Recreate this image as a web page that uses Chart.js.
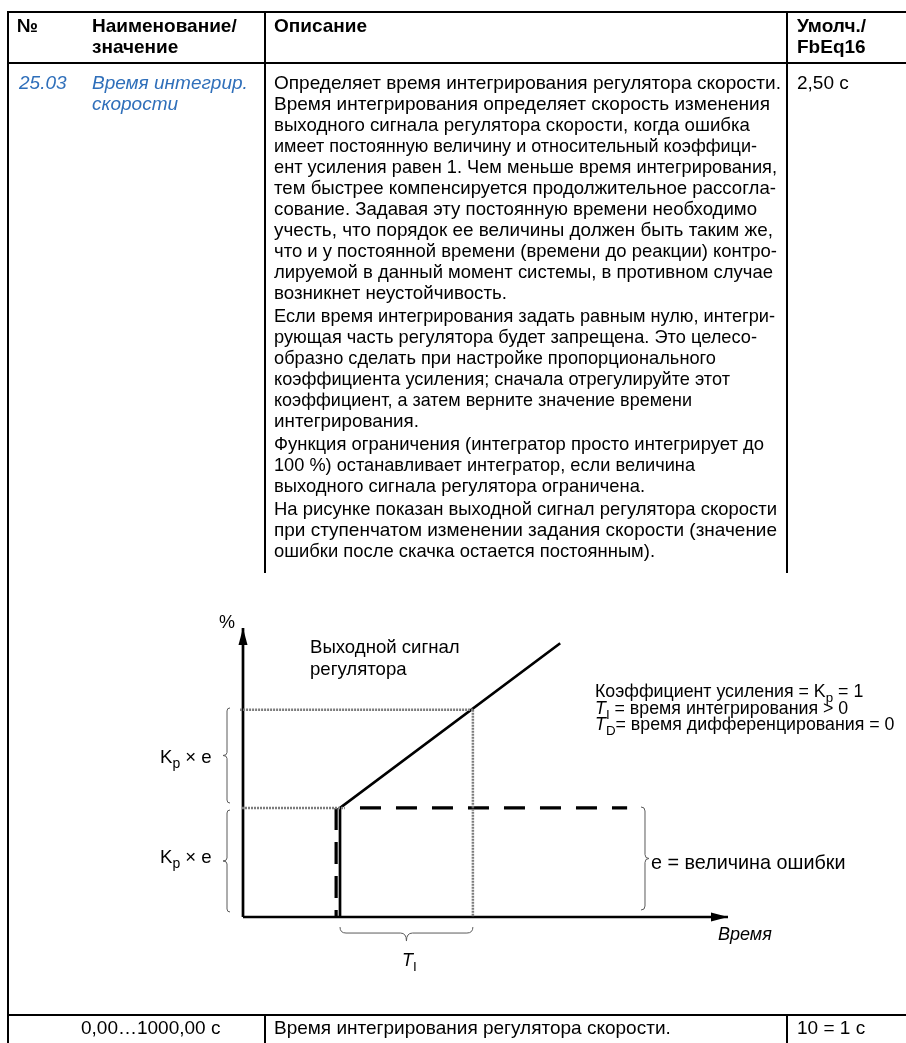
<!DOCTYPE html>
<html><head><meta charset="utf-8">
<script src="https://cdn.jsdelivr.net/npm/chart.js@4"></script>
<style>
html,body{margin:0;padding:0;background:#fff;}
body{width:906px;height:1043px;position:relative;overflow:hidden;font-family:"Liberation Sans",Arial,sans-serif;color:#000;}
.t{position:absolute;white-space:nowrap;font-size:19px;line-height:21px;z-index:2;transform-origin:0 0;}
.b{font-weight:bold;}
.blue{color:#2f6fba;font-style:italic;}
.ln{position:absolute;background:#000;z-index:2;}
.d{position:absolute;white-space:nowrap;font-size:18px;line-height:20px;z-index:3;}
.d sub{font-size:75%;vertical-align:-0.35em;line-height:0;}
#c{position:absolute;left:0;top:0;z-index:1;}
</style></head>
<body>
<canvas id="c" width="906" height="1043"></canvas>

<!-- table rules -->
<div class="ln" style="left:7px;top:11px;width:899px;height:2px"></div>
<div class="ln" style="left:7px;top:62px;width:899px;height:2px"></div>
<div class="ln" style="left:7px;top:11px;width:2px;height:1032px"></div>
<div class="ln" style="left:264px;top:11px;width:2px;height:562px"></div>
<div class="ln" style="left:786px;top:11px;width:2px;height:562px"></div>
<div class="ln" style="left:7px;top:1014px;width:899px;height:2px"></div>
<div class="ln" style="left:264px;top:1014px;width:2px;height:29px"></div>
<div class="ln" style="left:786px;top:1014px;width:2px;height:29px"></div>

<!-- header -->
<div class="t b" style="left:17px;top:15px">№</div>
<div class="t b" style="left:92px;top:15px">Наименование/<br>значение</div>
<div class="t b" style="left:274px;top:15px">Описание</div>
<div class="t b" style="left:797px;top:15px">Умолч./<br>FbEq16</div>

<!-- row -->
<div class="t blue" style="left:19px;top:72px">25.03</div>
<div class="t blue" style="left:92px;top:72px">Время интегрир.<br>скорости</div>
<div class="t" style="left:797px;top:72px">2,50 с</div>
<div id="desc"></div>

<!-- bottom row -->
<div class="t" style="left:81px;top:1017px">0,00…1000,00 с</div>
<div class="t" style="left:274px;top:1017px">Время интегрирования регулятора скорости.</div>
<div class="t" style="left:797px;top:1017px">10 = 1 с</div>

<!-- diagram labels -->
<div class="d" style="left:219px;top:612px">%</div>
<div class="d" style="left:310px;top:636px;line-height:22px;font-size:18.6px">Выходной сигнал<br>регулятора</div>
<div class="d" style="left:160px;top:747px;font-size:18.6px">K<sub>p</sub> × e</div>
<div class="d" style="left:160px;top:847px;font-size:18.6px">K<sub>p</sub> × e</div>
<div class="d" style="left:595px;top:683px;line-height:16.6px;font-size:17.8px">Коэффициент усиления = K<sub>p</sub> = 1</div>
<div class="d" style="left:595px;top:700px;line-height:16.6px;font-size:17.8px"><i>T</i><sub>I</sub> = время интегрирования &gt; 0</div>
<div class="d" style="left:595px;top:716px;line-height:16.6px;font-size:17.8px"><i>T</i><sub>D</sub>= время дифференцирования = 0</div>
<div class="d" style="left:651px;top:852px;font-size:19.8px">е = величина ошибки</div>
<div class="d" style="left:718px;top:924px"><i>Время</i></div>
<div class="d" style="left:402px;top:950px"><i>T</i><sub>I</sub></div>

<script>
// ---- description text (table) ----
const paragraphs = [
 ["Определяет время интегрирования регулятора скорости.",
  "Время интегрирования определяет скорость изменения",
  "выходного сигнала регулятора скорости, когда ошибка",
  "имеет постоянную величину и относительный коэффици-",
  "ент усиления равен 1. Чем меньше время интегрирования,",
  "тем быстрее компенсируется продолжительное рассогла-",
  "сование. Задавая эту постоянную времени необходимо",
  "учесть, что порядок ее величины должен быть таким же,",
  "что и у постоянной времени (времени до реакции) контро-",
  "лируемой в данный момент системы, в противном случае",
  "возникнет неустойчивость."],
 ["Если время интегрирования задать равным нулю, интегри-",
  "рующая часть регулятора будет запрещена. Это целесо-",
  "образно сделать при настройке пропорционального",
  "коэффициента усиления; сначала отрегулируйте этот",
  "коэффициент, а затем верните значение времени",
  "интегрирования."],
 ["Функция ограничения (интегратор просто интегрирует до",
  "100 %) останавливает интегратор, если величина",
  "выходного сигнала регулятора ограничена."],
 ["На рисунке показан выходной сигнал регулятора скорости",
  "при ступенчатом изменении задания скорости (значение",
  "ошибки после скачка остается постоянным)."]
];
// right edge (px) of each typeset line in the reference
const lineEnds = [781, 770, 750, 757, 777, 776, 757, 773, 777, 773, 507,
                  775, 757, 716, 730, 692, 419,
                  764, 695, 645,
                  777, 777, 655];
(function(){
  const host = document.getElementById('desc');
  const left = 274;
  let y = 72, k = 0;
  paragraphs.forEach((p, pi) => {
    if (pi > 0) y += 2;
    p.forEach(line => {
      const d = document.createElement('div');
      d.className = 't';
      d.style.left = left + 'px';
      d.style.top = y + 'px';
      d.textContent = line;
      host.appendChild(d);
      const w = d.getBoundingClientRect().width;
      const s = (lineEnds[k] - left) / w;
      d.style.transform = 'scaleX(' + s.toFixed(4) + ')';
      y += 21; k++;
    });
  });
})();

// ---- diagram data (time units / signal units, schematic) ----
const axisXX = [0, 5.0];           const axisXY = [0, 0];
const axisYX = [0, 0];             const axisYY = [0, 2.65];
const outputX = [1.0, 1.0, 3.27];  const outputY = [0, 1.0, 2.51];
const errStepX = [0.96, 0.96];     const errStepY = [1.0, 0];
const errLevelX = [1.206, 3.96];   const errLevelY = [1.0, 1.0];
const guideTopX = [-0.03, 2.37];   const guideTopY = [1.9, 1.9];
const guideMidX = [-0.01, 1.05];   const guideMidY = [1.0, 1.0];
const guideTiX = [2.37, 2.37];     const guideTiY = [1.9, 0];
const braceUpperX = [-0.134, -0.134]; const braceUpperY = [1.917, 1.045];
const braceLowerX = [-0.134, -0.134]; const braceLowerY = [0.981, 0.046];
const braceErrX = [4.103, 4.103];     const braceErrY = [1.009, 0.064];
const braceTiX = [1.0, 2.37];         const braceTiY = [-0.092, -0.092];

const pts = (xs, ys) => xs.map((x, i) => ({x, y: ys[i]}));
function ds(xs, ys, color, width, dash) {
  return {data: pts(xs, ys), showLine: true, borderColor: color, borderWidth: width,
          borderDash: dash || [], pointRadius: 0, clip: false, fill: false, tension: 0,
          borderCapStyle: 'butt', borderJoinStyle: 'miter'};
}
const guideColor = '#7c7c7c';

function drawBrace(ctx, x0, y0, x1, y1, nx, ny, curl, tip) {
  const L = Math.hypot(x1 - x0, y1 - y0);
  const ux = (x1 - x0) / L, uy = (y1 - y0) / L;
  const P = (u, v) => [x0 + ux * u + nx * v, y0 + uy * u + ny * v];
  ctx.beginPath();
  ctx.moveTo(...P(0, 0));
  ctx.quadraticCurveTo(...P(0, curl), ...P(curl, curl));
  ctx.lineTo(...P(L / 2 - curl, curl));
  ctx.quadraticCurveTo(...P(L / 2, curl), ...P(L / 2, curl + tip));
  ctx.quadraticCurveTo(...P(L / 2, curl), ...P(L / 2 + curl, curl));
  ctx.lineTo(...P(L - curl, curl));
  ctx.quadraticCurveTo(...P(L, curl), ...P(L, 0));
  ctx.stroke();
}
function arrow(ctx, tx, ty, dx, dy, len, half) {
  ctx.beginPath();
  ctx.moveTo(tx, ty);
  ctx.lineTo(tx - dx * len - dy * half, ty - dy * len + dx * half);
  ctx.lineTo(tx - dx * len + dy * half, ty - dy * len - dx * half);
  ctx.closePath();
  ctx.fill();
}
const decor = {
  id: 'decor',
  afterDatasetsDraw(chart) {
    const {ctx, scales: {x, y}} = chart;
    const px = v => x.getPixelForValue(v), py = v => y.getPixelForValue(v);
    ctx.save();
    ctx.fillStyle = '#000';
    arrow(ctx, px(axisXX[1]), py(axisXY[1]), 1, 0, 17, 4.5);
    arrow(ctx, px(axisYX[1]), py(axisYY[1]), 0, -1, 17, 4.5);
    ctx.strokeStyle = '#5a5a5a';
    ctx.lineWidth = 1;
    drawBrace(ctx, px(braceUpperX[0]), py(braceUpperY[0]), px(braceUpperX[1]), py(braceUpperY[1]), -1, 0, 3, 4);
    drawBrace(ctx, px(braceLowerX[0]), py(braceLowerY[0]), px(braceLowerX[1]), py(braceLowerY[1]), -1, 0, 3, 4);
    drawBrace(ctx, px(braceErrX[0]), py(braceErrY[0]), px(braceErrX[1]), py(braceErrY[1]), 1, 0, 4, 4);
    drawBrace(ctx, px(braceTiX[0]), py(braceTiY[0]), px(braceTiX[1]), py(braceTiY[1]), 0, 1, 6, 8);
    ctx.restore();
  }
};

new Chart(document.getElementById('c'), {
  type: 'scatter',
  data: {datasets: [
    ds(guideTopX, guideTopY, guideColor, 2.5, [2, 1]),
    ds(guideMidX, guideMidY, guideColor, 2.5, [2, 1]),
    ds(guideTiX, guideTiY, guideColor, 2.5, [2, 1]),
    ds(axisXX, axisXY, '#000', 2.7),
    ds(axisYX, axisYY, '#000', 2.7),
    ds(errStepX, errStepY, '#000', 3.2, [22, 12]),
    ds(errLevelX, errLevelY, '#000', 3.2, [21, 15]),
    ds(outputX, outputY, '#000', 2.7)
  ]},
  options: {
    responsive: false, animation: false, events: [],
    layout: {padding: {left: 243, right: 178, top: 628, bottom: 126}},
    scales: {
      x: {type: 'linear', display: false, min: 0, max: 5},
      y: {type: 'linear', display: false, min: 0, max: 2.65}
    },
    plugins: {legend: {display: false}, tooltip: {enabled: false}}
  },
  plugins: [decor]
});
</script>
</body></html>
